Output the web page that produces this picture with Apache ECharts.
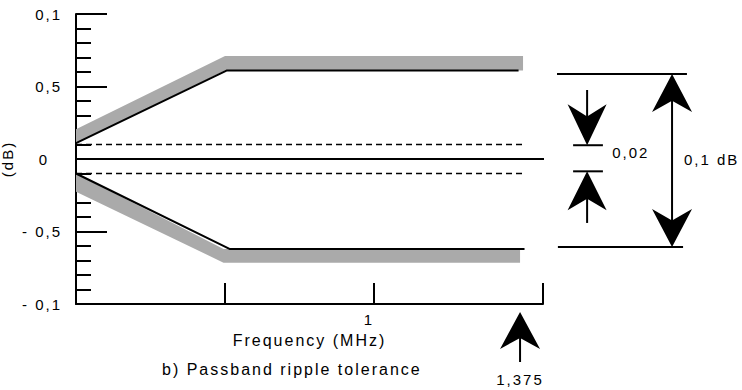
<!DOCTYPE html>
<html><head><meta charset="utf-8">
<script src="https://cdn.jsdelivr.net/npm/echarts@6/dist/echarts.min.js"></script>
<style>
html,body{margin:0;padding:0;background:#fff;}
#chart{width:742px;height:390px;}
#chart text{letter-spacing:2px;}
</style></head><body><div id="chart"></div>
<script>
// ---------- data ----------
const yTickLabels = {'0.1':'0,1','0.05':'0,5','0':'0','-0.05':'- 0,5','-0.1':'- 0,1'};
const xTickValues = [0.5, 1, 1.567];
const xLabelValues = [1];
const xLabelTexts = ['1'];
const upperLineX = [0, 0.505, 1.485];
const upperLine = [0.011, 0.061, 0.061];
const lowerLineX = [0, 0.515, 1.505];
const lowerLine = [-0.010, -0.062, -0.062];
const upperBandX = [0, 0.5, 1.50];
const upperBandOuter = [0.0205, 0.071, 0.071];
const upperBandInner = [0.011, 0.061, 0.061];
const lowerBandX = [0, 0.495, 1.49];
const lowerBandOuter = [-0.0225, -0.0715, -0.0715];
const lowerBandInner = [-0.010, -0.062, -0.062];
const rippleLimits = [0.01, -0.01];
const rippleX = [0, 1.50];
const zeroLineX = [0, 1.624];
const passbandDim = [0.0586, -0.0607];   // "0,1 dB" dimension
const rippleDim = [0.0095, -0.0085];     // "0,02" dimension
const passbandEdge = 1.49;               // marked "1,375"
const passbandEdgeText = '1,375';
const rippleText = '0,02';
const passbandText = '0,1 dB';

// ---------- chart ----------
const FONT = 'Liberation Sans';
const zip = (xs, ys) => xs.map((x, i) => [x, ys[i]]);

function bandRenderer(xs, outer, inner) {
  return function (params, api) {
    const pts = xs.map((x, i) => api.coord([x, outer[i]]));
    for (let i = xs.length - 1; i >= 0; i--) pts.push(api.coord([xs[i], inner[i]]));
    return { type: 'polygon', shape: { points: pts }, style: { fill: '#aaaaaa' } };
  };
}

function renderAnnotations(params, api) {
  const c = (x, y) => api.coord([x, y]);
  const kids = [];
  const line = (p1, p2, w) => kids.push({ type: 'line', shape: { x1: p1[0], y1: p1[1], x2: p2[0], y2: p2[1] }, style: { stroke: '#000', lineWidth: w } });
  const head = (tip, dir, L, W) => kids.push({ type: 'polygon', shape: { points: [tip, [tip[0] + W / 2, tip[1] - dir * L], [tip[0], tip[1] - dir * L * 0.7], [tip[0] - W / 2, tip[1] - dir * L]] }, style: { fill: '#000' } });
  const text = (str, p, align) => kids.push({ type: 'text', style: { text: str, x: p[0], y: p[1], align: align, verticalAlign: 'middle', fontSize: 15, fontFamily: FONT, fill: '#000' } });

  // 0,1 dB dimension
  const t1 = c(1.614, passbandDim[0]), t2 = c(2.05, passbandDim[0]);
  const b1 = c(1.617, passbandDim[1]), b2 = c(2.037, passbandDim[1]);
  line(t1, t2, 2);
  line(b1, b2, 2);
  const vx = c(2.0, 0)[0];
  line([vx, t1[1] + 10], [vx, b1[1] - 10], 2);
  head([vx, t1[1]], -1, 38, 40);
  head([vx, b1[1]], 1, 38, 40);
  text(passbandText, c(2.04, 0), 'left');

  // 0,02 dimension
  const r1a = c(1.668, rippleDim[0]), r1b = c(1.768, rippleDim[0]);
  const r2a = c(1.668, rippleDim[1]), r2b = c(1.768, rippleDim[1]);
  line(r1a, r1b, 2);
  line(r2a, r2b, 2);
  const sx = c(1.715, 0)[0];
  const topStem = c(1.715, 0.0476)[1];
  const botStem = c(1.715, -0.0441)[1];
  line([sx, topStem], [sx, r1a[1] - 10], 2);
  head([sx, r1a[1]], 1, 41, 39);
  line([sx, botStem], [sx, r2a[1] + 10], 2);
  head([sx, r2a[1]], -1, 39, 39);
  text(rippleText, c(1.799, 0.0045), 'left');

  // 1,375 marker below the axis
  const base = c(passbandEdge, -0.1);
  line([base[0], base[1] + 20], [base[0], base[1] + 58], 2);
  head([base[0], base[1] + 8], -1, 37, 40);
  text(passbandEdgeText, [base[0], base[1] + 75], 'center');

  return { type: 'group', children: kids };
}

const labelStyle = { color: '#000', fontSize: 15, fontFamily: FONT };

const option = {
  animation: false,
  backgroundColor: '#fff',
  title: {
    text: 'b) Passband ripple tolerance', left: 162, top: 361, padding: 0,
    textStyle: { fontSize: 16, fontWeight: 'normal', color: '#000', fontFamily: FONT }
  },
  grid: { left: 76, top: 14, width: 467, height: 290, containLabel: false, outerBoundsMode: 'none' },
  xAxis: {
    type: 'value', min: 0, max: 1.567,
    axisLine: { onZero: false, lineStyle: { color: '#000', width: 2 } },
    axisTick: { show: true, inside: true, length: 21, customValues: xTickValues, lineStyle: { color: '#000', width: 2 } },
    axisLabel: Object.assign({ customValues: xLabelValues, margin: 8, padding: [0, 10, 0, 0], formatter: v => xLabelTexts[xLabelValues.indexOf(v)] || '' }, labelStyle),
    splitLine: { show: false },
    name: 'Frequency (MHz)', nameLocation: 'middle', nameGap: 28,
    nameTextStyle: { color: '#000', fontSize: 16, fontFamily: FONT }
  },
  yAxis: {
    type: 'value', min: -0.1, max: 0.1, interval: 0.05,
    axisLine: { show: true, onZero: false, lineStyle: { color: '#000', width: 2 } },
    axisTick: { show: true, inside: true, length: 31, lineStyle: { color: '#000', width: 2 } },
    minorTick: { show: true, splitNumber: 5, length: 15, lineStyle: { color: '#000', width: 2 } },
    splitLine: { show: false }, minorSplitLine: { show: false },
    axisLabel: Object.assign({
      margin: 14,
      formatter: v => { const k = String(Math.round(v * 100) / 100); return k === '0' ? '{z|0}' : (yTickLabels[k] || ''); },
      rich: { z: { color: '#000', fontSize: 15, fontFamily: FONT, padding: [0, 13, 0, 0] } }
    }, labelStyle),
    name: '(dB)', nameLocation: 'middle', nameGap: 61,
    nameTextStyle: { color: '#000', fontSize: 15, fontFamily: FONT }
  },
  series: [
    { type: 'custom', silent: true, clip: false, renderItem: bandRenderer(upperBandX, upperBandOuter, upperBandInner), data: [0], z: 1 },
    { type: 'custom', silent: true, clip: false, renderItem: bandRenderer(lowerBandX, lowerBandOuter, lowerBandInner), data: [0], z: 1 },
    { type: 'line', data: zip(upperLineX, upperLine), symbol: 'none', clip: false, lineStyle: { color: '#000', width: 2 }, z: 3 },
    { type: 'line', data: zip(lowerLineX, lowerLine), symbol: 'none', clip: false, lineStyle: { color: '#000', width: 2 }, z: 3 },
    { type: 'line', data: zip(rippleX, [rippleLimits[0], rippleLimits[0]]), symbol: 'none', clip: false, lineStyle: { color: '#000', width: 1.5, type: [6, 4] }, z: 3 },
    { type: 'line', data: zip(rippleX, [rippleLimits[1], rippleLimits[1]]), symbol: 'none', clip: false, lineStyle: { color: '#000', width: 1.5, type: [6, 4] }, z: 3 },
    { type: 'line', data: zip(zeroLineX, [0, 0]), symbol: 'none', clip: false, lineStyle: { color: '#000', width: 2 }, z: 3 },
    { type: 'custom', silent: true, clip: false, renderItem: renderAnnotations, data: [0], z: 4 }
  ]
};

const chart = echarts.init(document.getElementById('chart'), null, { renderer: 'svg' });
chart.setOption(option);
</script></body></html>
